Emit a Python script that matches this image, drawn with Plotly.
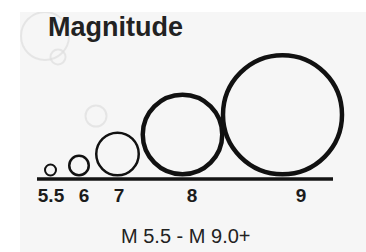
import plotly.graph_objects as go

# ---- data ----
magnitudes = [5.5, 6, 7, 8, 9]
tick_labels = ["5.5", "6", "7", "8", "9"]
bubble_diam = [11, 19.5, 42.5, 79.5, 119]      # relative symbol size per magnitude
title_text = "Magnitude"
range_text = "M 5.5 - M 9.0+"

# ---- layout helpers (pixel-like axis units) ----
W, H = 366, 252
L, T = 20, 12                  # white strip left / top of the panel
circle_x = [50.5, 79, 117.5, 182.5, 282.5]
label_x = [51, 84, 119, 192, 301]
line_w = [2, 2.5, 2.5, 4.5, 4.5]
base_y = 179
circle_y = [base_y - 2.5 - (d + lw) / 2 for d, lw in zip(bubble_diam, line_w)]

fig = go.Figure()

# faint decorative bubbles
fig.add_trace(go.Scatter(
    x=[45, 58, 96], y=[36, 57, 116], mode="markers",
    marker=dict(size=[48, 15, 21], symbol="circle-open", color="#dedede",
                line=dict(width=2)),
    hoverinfo="skip", showlegend=False))

# baseline
fig.add_trace(go.Scatter(
    x=[37, 333], y=[base_y, base_y], mode="lines",
    line=dict(color="#141414", width=3.5),
    hoverinfo="skip", showlegend=False))

# magnitude circles
for xc, yc, d, lw, m in zip(circle_x, circle_y, bubble_diam, line_w, magnitudes):
    fig.add_trace(go.Scatter(
        x=[xc], y=[yc], mode="markers",
        marker=dict(size=d, symbol="circle-open", color="#111111",
                    line=dict(width=lw)),
        text=[f"M {m}"], hoverinfo="text",
        showlegend=False, cliponaxis=False))

# labels
fig.add_trace(go.Scatter(
    x=label_x, y=[197] * len(label_x), mode="text",
    text=[f"<b>{t}</b>" for t in tick_labels],
    textfont=dict(family="Liberation Sans, Arial", size=19, color="#1c1c1c"),
    textposition="middle center", hoverinfo="skip", showlegend=False,
    cliponaxis=False))

fig.add_annotation(x=46, y=27, xref="x", yref="y", xanchor="left", yanchor="middle",
                   text=f"<b>{title_text}</b>", showarrow=False,
                   font=dict(family="Liberation Sans, Arial", size=27, color="#222222"))
fig.add_annotation(x=186, y=236, xref="x", yref="y", xanchor="center", yanchor="middle",
                   text=range_text, showarrow=False,
                   font=dict(family="Liberation Sans, Arial", size=20, color="#222222"))

fig.update_xaxes(range=[L, W], visible=False, fixedrange=True)
fig.update_yaxes(range=[H, T], visible=False, fixedrange=True)
fig.update_layout(width=W, height=H,
                  margin=dict(l=L, r=0, t=T, b=0, pad=0),
                  paper_bgcolor="white", plot_bgcolor="#f6f6f6")

fig.write_html("out.html",
               config={"displayModeBar": False},
               post_script="document.body.style.margin='0';document.body.style.overflow='hidden';")
